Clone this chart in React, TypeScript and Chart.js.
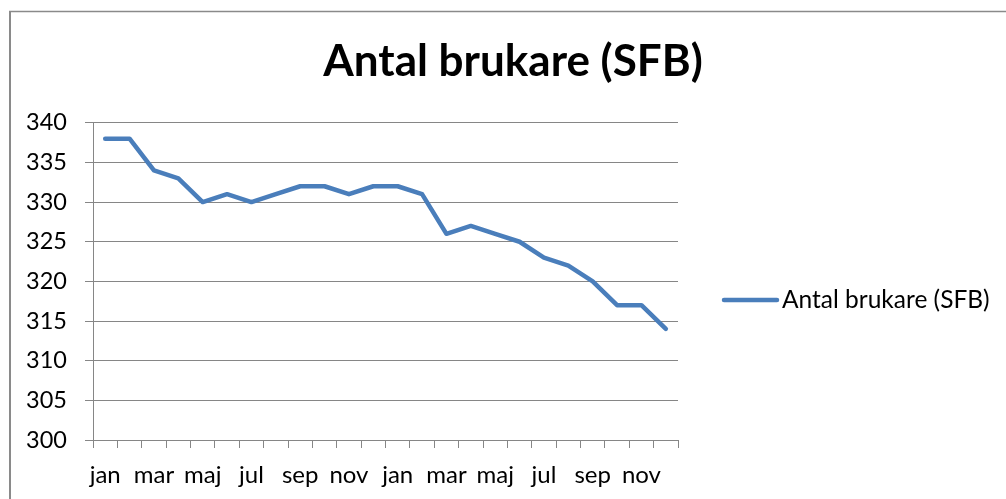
import React, { useEffect, useRef } from 'react';
import { Chart, registerables } from 'chart.js';

Chart.register(...registerables);

const months = ['jan', 'feb', 'mar', 'apr', 'maj', 'jun', 'jul', 'aug', 'sep', 'okt', 'nov', 'dec',
  'jan', 'feb', 'mar', 'apr', 'maj', 'jun', 'jul', 'aug', 'sep', 'okt', 'nov', 'dec'];
const brukare = [338, 338, 334, 333, 330, 331, 330, 331, 332, 332, 331, 332,
  332, 331, 326, 327, 326, 325, 323, 322, 320, 317, 317, 314];
const seriesLabel = 'Antal brukare (SFB)';
const chartTitle = 'Antal brukare (SFB)';
const yMin = 300;
const yMax = 340;
const yStep = 5;

const FONT = 'Lato';
const GRID = '#868686';
const BLUE = '#4a7ebb';

const framePlugin = {
  id: 'frame',
  afterDraw(chart: any) {
    const ctx = chart.ctx;
    ctx.save();
    ctx.strokeStyle = '#8a8a8a';
    ctx.lineWidth = 2;
    ctx.beginPath();
    ctx.moveTo(10, 11);
    ctx.lineTo(10, chart.height);
    ctx.stroke();
    ctx.lineWidth = 1.5;
    ctx.beginPath();
    ctx.moveTo(9, 11.5);
    ctx.lineTo(chart.width, 11.5);
    ctx.stroke();
    ctx.restore();
  },
};

const sideLegendPlugin = {
  id: 'sideLegend',
  afterDraw(chart: any) {
    const ctx = chart.ctx;
    const ds = chart.data.datasets[0];
    const x0 = chart.chartArea.right + 46;
    const y = 300;
    ctx.save();
    ctx.strokeStyle = ds.borderColor;
    ctx.lineWidth = 4.5;
    ctx.lineCap = 'round';
    ctx.beginPath();
    ctx.moveTo(x0, y);
    ctx.lineTo(x0 + 53, y);
    ctx.stroke();
    ctx.fillStyle = '#000';
    ctx.font = `24.5px ${FONT}`;
    ctx.textAlign = 'left';
    ctx.textBaseline = 'alphabetic';
    ctx.fillText(ds.label, x0 + 58, y + 8);
    ctx.restore();
  },
};

export default function App() {
  const ref = useRef<HTMLCanvasElement | null>(null);

  useEffect(() => {
    if (!ref.current) return;
    const chart = new Chart(ref.current, {
      type: 'line',
      data: {
        labels: months,
        datasets: [
          {
            label: seriesLabel,
            data: brukare,
            borderColor: BLUE,
            backgroundColor: BLUE,
            borderWidth: 4.5,
            pointRadius: 0,
            pointHoverRadius: 0,
            tension: 0,
            borderJoinStyle: 'round',
            borderCapStyle: 'round',
            fill: false,
          },
        ],
      },
      options: {
        responsive: false,
        animation: false,
        layout: { padding: { top: 11, left: 20, right: 0, bottom: 0 } },
        plugins: {
          legend: { display: false },
          tooltip: { enabled: false },
          title: {
            display: true,
            text: chartTitle,
            color: '#000',
            font: { family: FONT, size: 44, weight: 'bold', lineHeight: 1.2 },
            padding: { top: 24, bottom: 35 },
          },
        },
        scales: {
          x: {
            type: 'category',
            offset: true,
            afterFit: (s: any) => { s.height = 59; },
            grid: {
              display: true,
              offset: true,
              drawOnChartArea: false,
              drawTicks: true,
              tickLength: 8,
              color: GRID,
              lineWidth: 1,
            },
            border: { display: true, color: GRID, width: 1 },
            ticks: {
              autoSkip: false,
              maxRotation: 0,
              minRotation: 0,
              padding: 13,
              color: '#000',
              font: { family: FONT, size: 24 },
              callback: (_v: any, i: number) => (i % 2 === 0 ? months[i] : ''),
            },
          },
          y: {
            type: 'linear',
            position: 'left',
            min: yMin,
            max: yMax,
            afterFit: (s: any) => { s.width = 73; },
            grid: {
              color: GRID,
              lineWidth: 1,
              drawTicks: true,
              tickLength: 8,
            },
            border: { display: true, color: GRID, width: 1 },
            ticks: {
              stepSize: yStep,
              padding: 18,
              color: '#000',
              font: { family: FONT, size: 23.5 },
            },
          },
          yRight: {
            type: 'linear',
            position: 'right',
            display: true,
            afterFit: (s: any) => { s.width = 328; },
            grid: { display: false, drawTicks: false },
            border: { display: false },
            ticks: { display: false },
          },
        },
      },
      plugins: [framePlugin, sideLegendPlugin],
    } as any);
    return () => chart.destroy();
  }, []);

  return (
    <div style={{ position: 'absolute', left: 0, top: 0, width: 1006, height: 499, background: '#fff' }}>
      <canvas ref={ref} width={1006} height={499} />
    </div>
  );
}
